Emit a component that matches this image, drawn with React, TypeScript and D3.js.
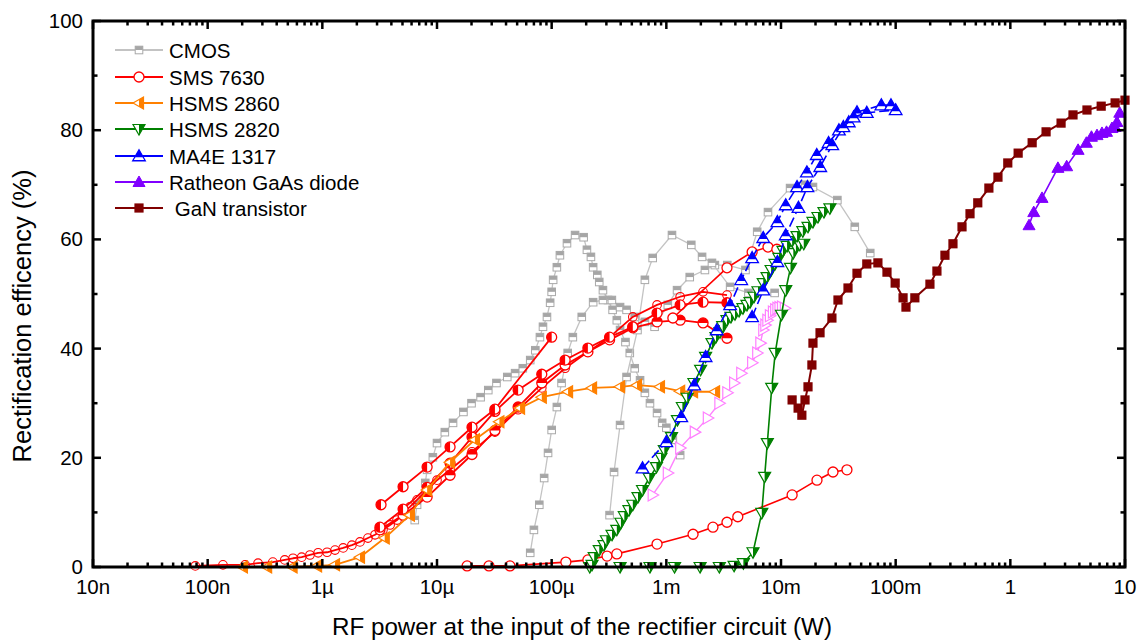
import React from 'react';
import * as d3 from 'd3';

type Pt = [number, number];

// ---- data: [RF power (W), rectification efficiency (%)] ----
const cmosA: Pt[] = [[6.4e-6,8.6],[6.7e-6,11.4],[7.9e-6,15.4],[8.2e-6,17.8],[9.2e-6,20.1],[1.0e-5,22.7],[1.17e-5,24.7],[1.38e-5,26.4],[1.7e-5,28.4],[2.0e-5,30.0],[2.4e-5,31.1],[2.8e-5,32.4],[3.3e-5,33.7],[4.1e-5,34.8],[4.8e-5,35.5],[5.6e-5,36.4],[6.5e-5,37.9],[7.2e-5,39.7],[7.9e-5,42.1],[8.4e-5,44.0],[9.1e-5,45.8],[9.7e-5,48.4],[1.0e-4,50.4],[1.03e-4,52.6],[1.11e-4,54.9],[1.18e-4,57.1],[1.36e-4,59.3],[1.6e-4,60.8],[1.9e-4,60.4],[2.03e-4,58.1],[2.2e-4,56.8],[2.3e-4,54.9],[2.5e-4,53.5],[2.6e-4,52.2],[2.8e-4,50.7],[3.1e-4,48.9],[3.4e-4,47.1],[3.7e-4,45.2],[3.95e-4,43.4],[4.4e-4,41.2],[4.8e-4,39.2],[5.3e-4,36.4],[5.9e-4,34.2],[6.5e-4,31.9],[7.2e-4,30.0],[8.3e-4,28.2],[9.2e-4,26.4],[1.0e-3,25.5],[1.14e-3,23.3],[1.32e-3,20.5]];
const cmosB: Pt[] = [[6.5e-5,2.6],[7.0e-5,6.8],[7.8e-5,11.4],[8.6e-5,16.3],[9.3e-5,20.9],[1.0e-4,25.1],[1.11e-4,29.3],[1.22e-4,33.7],[1.38e-4,39.2],[1.53e-4,42.1],[1.83e-4,45.8],[2.3e-4,48.5],[2.8e-4,48.9],[3.35e-4,48.9],[3.95e-4,47.6],[4.5e-4,47.1],[5.3e-4,45.8],[6.5e-4,44.9],[7.9e-4,44.0],[1.03e-3,48.0],[1.24e-3,50.7],[1.6e-3,53.1],[2.17e-3,54.4],[2.65e-3,55.3],[3.4e-3,55.3],[4.9e-3,54.4],[6.2e-3,61.4],[7.7e-3,65.0],[1.2e-2,69.4],[1.62e-2,70.0],[1.9e-2,69.6],[3.1e-2,67.2],[4.4e-2,62.3],[6.0e-2,57.5]];
const cmosC: Pt[] = [[3.2e-4,9.5],[3.5e-4,17.4],[3.95e-4,26.0],[4.5e-4,34.8],[5.6e-4,43.4],[6.5e-4,52.6],[7.6e-4,56.6],[1.12e-3,60.8],[1.65e-3,59.0],[2.05e-3,56.8],[2.5e-3,55.7],[3.6e-3,51.3],[5.2e-3,50.2],[8.8e-3,50.2]];

const smsDense: Pt[] = [[7.8e-8,0.2],[1.36e-7,0.4],[2.12e-7,0.4],[2.75e-7,0.7],[3.7e-7,0.9],[4.7e-7,1.3],[5.55e-7,1.6],[6.6e-7,1.8],[7.8e-7,2.2],[9.2e-7,2.6],[1.1e-6,2.7],[1.29e-6,3.1],[1.52e-6,3.5],[1.81e-6,4.0],[2.13e-6,4.6],[2.5e-6,5.3],[2.88e-6,5.9],[3.38e-6,6.8],[3.9e-6,7.7],[4.48e-6,8.6],[5.06e-6,9.9],[5.8e-6,11.0],[6.7e-6,12.3],[8.2e-6,14.1],[1.0e-5,15.9],[1.3e-5,17.8],[2.02e-5,21.1],[3.2e-5,24.7],[5.1e-5,28.8],[8.2e-5,32.8],[1.31e-4,36.4],[2.07e-4,39.4],[3.2e-4,42.1],[5.1e-4,45.8],[8.3e-4,48.0],[1.32e-3,49.5],[2.09e-3,50.4],[3.38e-3,49.8]];
const smsShort: Pt[] = [[3.25e-6,11.4],[5.06e-6,14.7],[8.2e-6,18.3],[1.3e-5,22.0],[2.02e-5,25.6],[3.2e-5,28.9],[1.0e-4,42.1]];
const smsMid: Pt[] = [[3.18e-6,7.3],[5.06e-6,10.6],[8.2e-6,14.6],[1.3e-5,19.0],[2.02e-5,23.8],[3.2e-5,28.5],[5.1e-5,32.4],[8.2e-5,35.3],[1.31e-4,37.9],[2.07e-4,40.1],[3.2e-4,42.1],[5.1e-4,44.0],[8.3e-4,46.5],[1.32e-3,48.0],[2.09e-3,48.5],[3.38e-3,48.4]];
const smsLow: Pt[] = [[3.18e-6,6.8],[5.06e-6,9.5],[8.2e-6,12.8],[1.3e-5,16.8],[2.02e-5,20.6],[3.2e-5,25.0],[5.1e-5,29.3],[8.2e-5,33.7],[1.31e-4,37.0],[2.07e-4,39.4],[3.2e-4,41.6],[5.1e-4,43.8],[8.3e-4,44.9],[1.32e-3,45.2],[2.09e-3,44.7],[3.38e-3,41.9]];
const smsSteep: Pt[] = [[1.14e-3,45.6],[3.38e-3,54.8],[5.6e-3,57.7],[7.7e-3,58.6],[9.2e-3,58.2]];
const smsFlat: Pt[] = [[1.83e-5,0.2],[2.84e-5,0.2],[4.33e-5,0.2],[1.33e-4,0.9],[2.07e-4,1.3],[3.04e-4,2.0],[3.7e-4,2.4],[8.3e-4,4.2],[1.71e-3,6.0],[2.55e-3,7.3],[3.38e-3,8.2],[4.2e-3,9.2],[1.25e-2,13.2],[2.06e-2,15.9],[2.84e-2,17.4],[3.76e-2,17.8]];

const hsms2860: Pt[] = [[2.03e-7,0],[3.3e-7,0],[5.5e-7,0],[9.0e-7,0.2],[1.29e-6,0.4],[2.13e-6,1.8],[3.5e-6,5.3],[5.8e-6,9.5],[8.2e-6,14.1],[1.3e-5,19.2],[2.14e-5,23.3],[3.5e-5,26.6],[5.3e-5,29.1],[8.2e-5,31.1],[1.39e-4,32.1],[2.25e-4,32.8],[3.95e-4,33.0],[5.55e-4,33.3],[8.8e-4,33.0],[1.32e-3,32.2],[1.71e-3,32.1],[2.66e-3,32.1]];

const hsms2820A: Pt[] = [[2.25e-4,0.4],[2.35e-4,1.8],[2.6e-4,3.1],[2.86e-4,4.0],[3.0e-4,4.9],[3.36e-4,5.9],[3.7e-4,6.8],[4.02e-4,8.1],[4.3e-4,9.3],[4.72e-4,10.4],[5.1e-4,11.4],[5.66e-4,12.8],[6.2e-4,14.1],[7.1e-4,16.3],[8.2e-4,18.3],[8.98e-4,20.0],[9.6e-4,21.4],[1.11e-3,23.8],[1.25e-3,26.9],[1.38e-3,29.3],[1.52e-3,31.0],[1.74e-3,33.7],[1.99e-3,36.1],[2.2e-3,38.5],[2.5e-3,41.0],[2.71e-3,42.1],[2.94e-3,43.0],[3.1e-3,44.1],[3.38e-3,45.2],[3.66e-3,45.8],[3.97e-3,46.3],[4.31e-3,46.9],[4.66e-3,47.4],[5.05e-3,48.0],[5.37e-3,48.5],[5.82e-3,49.5],[6.3e-3,50.5],[7.0e-3,52.0],[7.56e-3,53.1],[8.2e-3,54.4],[8.87e-3,55.5],[9.6e-3,56.6],[1.04e-2,57.9],[1.13e-2,58.8],[1.25e-2,59.7],[1.38e-2,60.6],[1.55e-2,61.5],[1.72e-2,62.3],[1.9e-2,63.2],[2.1e-2,64.1],[2.37e-2,65.0],[2.67e-2,65.7]];
const hsms2820B: Pt[] = [[2.15e-4,0],[3.95e-4,0],[7.2e-4,0],[1.18e-3,0],[1.97e-3,0],[2.9e-3,0],[3.9e-3,0.2],[4.7e-3,0.7],[5.7e-3,2.7],[6.8e-3,9.9],[7.2e-3,16.5],[7.6e-3,22.7],[8.3e-3,32.8],[8.9e-3,39.2],[1.01e-2,46.2],[1.1e-2,50.7],[1.21e-2,54.8],[1.28e-2,57.5],[1.35e-2,58.6],[1.46e-2,59.0],[1.58e-2,59.2]];
const hsms2820C: Pt[] = [[7.6e-4,13.2],[1.03e-3,17.2],[1.32e-3,21.8],[1.77e-3,24.7],[2.3e-3,27.3],[2.9e-3,30.0],[3.4e-3,31.9],[3.9e-3,33.7],[4.5e-3,35.5],[5.6e-3,37.4],[6.2e-3,39.2],[6.6e-3,41.0],[7.0e-3,43.4],[7.3e-3,44.3],[7.6e-3,45.2],[8.0e-3,46.0],[8.5e-3,46.7],[8.9e-3,47.1],[9.3e-3,47.4],[9.7e-3,47.5],[1.02e-2,47.6],[1.08e-2,47.4]];

const ma4eA: Pt[] = [[6.2e-4,18.1],[1.0e-3,22.9],[1.35e-3,27.5],[1.75e-3,33.3],[2.2e-3,38.5],[2.75e-3,43.4],[3.6e-3,48.0],[4.5e-3,52.6],[5.6e-3,56.6],[7.0e-3,60.3],[9.3e-3,63.2],[1.1e-2,66.3],[1.38e-2,69.6],[1.68e-2,72.3],[2.05e-2,75.5],[2.6e-2,77.7],[3.2e-2,80.0],[3.9e-2,81.5],[4.6e-2,83.3],[7.5e-2,84.6],[9.1e-2,84.6]];
const ma4eB: Pt[] = [[5.6e-3,45.8],[7.0e-3,50.7],[9.3e-3,55.9],[1.1e-2,60.8],[1.42e-2,65.8],[1.7e-2,69.6],[2.2e-2,73.3],[2.8e-2,77.3],[3.5e-2,80.6],[4.3e-2,82.4],[5.6e-2,83.2],[1.0e-1,83.7]];

const ratheon: Pt[] = [[1.456,62.6],[1.6,65.0],[1.89,67.6],[2.6,73.1],[3.1,73.4],[3.9,76.4],[4.6,77.7],[5.1,78.8],[5.7,79.1],[6.3,79.5],[6.9,79.7],[7.7,80.4],[8.2,80.6],[8.5,81.5],[9.0,83.2]];

const gan: Pt[] = [[1.25e-2,30.6],[1.41e-2,29.1],[1.52e-2,27.8],[1.62e-2,30.6],[1.72e-2,33.0],[1.86e-2,37.0],[1.9e-2,41.0],[2.19e-2,42.9],[2.78e-2,45.6],[3.14e-2,48.9],[3.84e-2,51.1],[4.6e-2,53.8],[5.6e-2,55.5],[7.0e-2,55.7],[8.4e-2,54.0],[9.9e-2,52.0],[0.116,49.3],[0.123,47.6],[0.147,49.3],[0.199,51.8],[0.229,54.2],[0.269,57.1],[0.316,59.2],[0.379,62.3],[0.445,64.7],[0.52,66.7],[0.65,69.4],[0.78,71.4],[0.95,74.0],[1.17,75.8],[1.55,77.7],[2.05,79.7],[2.77,81.3],[3.52,82.8],[4.66,83.7],[6.2,84.4],[8.2,85.0],[10,85.5]];

const legendNames = ['CMOS', 'SMS 7630', 'HSMS 2860', 'HSMS 2820', 'MA4E 1317', 'Ratheon GaAs diode', ' GaN transistor'];
const xTickValues = [1e-8, 1e-7, 1e-6, 1e-5, 1e-4, 1e-3, 1e-2, 1e-1, 1, 10];
const xTickLabels = ['10n', '100n', '1\u00b5', '10\u00b5', '100\u00b5', '1m', '10m', '100m', '1', '10'];
const yTickValues = [0, 20, 40, 60, 80, 100];
const yMinorValues = [10, 30, 50, 70, 90];

const C = {
  cmos: '#c3c3c3', sms: '#ff0000', h2860: '#ff8000', h2820: '#008000',
  pink: '#ff80ff', ma4e: '#0000ff', rat: '#8000ff', gan: '#800000',
};

type Kind = 'sqHalf' | 'circOpen' | 'circThin' | 'circHalfL' | 'circHalfT' | 'triLHalf' | 'triDHalf' | 'triUHalf' | 'triROpen' | 'triUFill' | 'sqFill';

interface Series { data: Pt[]; color: string; width: number; kind: Kind; dash?: string; }

const series: Series[] = [
  { data: cmosA, color: C.cmos, width: 1.3, kind: 'sqHalf' },
  { data: cmosB, color: C.cmos, width: 1.3, kind: 'sqHalf' },
  { data: cmosC, color: C.cmos, width: 1.3, kind: 'sqHalf' },
  { data: smsFlat, color: C.sms, width: 1.6, kind: 'circOpen' },
  { data: smsDense, color: C.sms, width: 1.8, kind: 'circThin' },
  { data: smsLow, color: C.sms, width: 1.8, kind: 'circHalfT' },
  { data: smsMid, color: C.sms, width: 1.8, kind: 'circHalfL' },
  { data: smsShort, color: C.sms, width: 1.8, kind: 'circHalfL' },
  { data: smsSteep, color: C.sms, width: 1.6, kind: 'circOpen' },
  { data: hsms2860, color: C.h2860, width: 1.8, kind: 'triLHalf' },
  { data: hsms2820C, color: C.pink, width: 1.4, kind: 'triROpen' },
  { data: hsms2820B, color: C.h2820, width: 1.6, kind: 'triDHalf' },
  { data: hsms2820A, color: C.h2820, width: 1.6, kind: 'triDHalf' },
  { data: ma4eA, color: C.ma4e, width: 1.6, kind: 'triUHalf', dash: '10 4' },
  { data: ma4eB, color: C.ma4e, width: 1.6, kind: 'triUHalf', dash: '10 4' },
  { data: ratheon, color: C.rat, width: 1.6, kind: 'triUFill' },
  { data: gan, color: C.gan, width: 2, kind: 'sqFill' },
];

const legendKinds: Kind[] = ['sqHalf', 'circOpen', 'triLHalf', 'triDHalf', 'triUHalf', 'triUFill', 'sqFill'];
const legendColors = [C.cmos, C.sms, C.h2860, C.h2820, C.ma4e, C.rat, C.gan];

const FONT = "'Liberation Sans', Arial, Helvetica, sans-serif";

function Marker({ kind, cx, cy, c }: { kind: Kind; cx: number; cy: number; c: string }) {
  switch (kind) {
    case 'sqHalf': {
      const s = 3.8;
      return (
        <g>
          <rect x={cx - s} y={cy - s} width={2 * s} height={2 * s} fill="#ffffff" stroke="#a9a9a9" strokeWidth={1} />
          <rect x={cx - s} y={cy - s} width={2 * s} height={s} fill="#a6a6a6" />
        </g>
      );
    }
    case 'circOpen':
      return <circle cx={cx} cy={cy} r={5} fill="#ffffff" stroke={c} strokeWidth={1.3} />;
    case 'circThin':
      return <circle cx={cx} cy={cy} r={4.3} fill="none" stroke={c} strokeWidth={1.1} />;
    case 'circHalfL': {
      const r = 5;
      return (
        <g>
          <circle cx={cx} cy={cy} r={r} fill="#ffffff" stroke={c} strokeWidth={1.3} />
          <path d={`M${cx},${cy - r} A${r},${r} 0 0 0 ${cx},${cy + r} Z`} fill={c} />
        </g>
      );
    }
    case 'circHalfT': {
      const r = 5;
      return (
        <g>
          <circle cx={cx} cy={cy} r={r} fill="#ffffff" stroke={c} strokeWidth={1.3} />
          <path d={`M${cx - r},${cy} A${r},${r} 0 0 1 ${cx + r},${cy} Z`} fill={c} />
        </g>
      );
    }
    case 'triLHalf': {
      const s = 6;
      return (
        <g>
          <polygon points={`${cx - s},${cy} ${cx + 0.75 * s},${cy - s} ${cx + 0.75 * s},${cy + s}`} fill="#ffffff" stroke={c} strokeWidth={1.2} />
          <polygon points={`${cx},${cy - 0.571 * s} ${cx + 0.75 * s},${cy - s} ${cx + 0.75 * s},${cy + s} ${cx},${cy + 0.571 * s}`} fill={c} />
        </g>
      );
    }
    case 'triDHalf': {
      const s = 6;
      return (
        <g>
          <polygon points={`${cx - s},${cy - 0.75 * s} ${cx + s},${cy - 0.75 * s} ${cx},${cy + s}`} fill="#ffffff" stroke={c} strokeWidth={1.2} />
          <polygon points={`${cx},${cy - 0.75 * s} ${cx + s},${cy - 0.75 * s} ${cx},${cy + s}`} fill={c} />
        </g>
      );
    }
    case 'triUHalf': {
      const s = 6.3;
      return (
        <g>
          <polygon points={`${cx},${cy - s} ${cx + s},${cy + 0.75 * s} ${cx - s},${cy + 0.75 * s}`} fill="#ffffff" stroke={c} strokeWidth={1.3} />
          <polygon points={`${cx},${cy - s} ${cx + 0.7 * s},${cy + 0.2 * s} ${cx - 0.7 * s},${cy + 0.2 * s}`} fill={c} />
        </g>
      );
    }
    case 'triROpen': {
      const s = 6;
      return <polygon points={`${cx + s},${cy} ${cx - 0.75 * s},${cy - s} ${cx - 0.75 * s},${cy + s}`} fill="#ffffff" stroke={c} strokeWidth={1.2} />;
    }
    case 'triUFill': {
      const s = 6;
      return <polygon points={`${cx},${cy - s} ${cx + s},${cy + 0.75 * s} ${cx - s},${cy + 0.75 * s}`} fill={c} stroke={c} strokeWidth={1} />;
    }
    case 'sqFill': {
      const s = 4.6;
      return <rect x={cx - s} y={cy - s} width={2 * s} height={2 * s} fill={c} />;
    }
  }
  return null;
}

export default function App() {
  const left = 93, right = 1125, top = 21, bottom = 567;
  const x = d3.scaleLog().domain([1e-8, 10]).range([left, right]);
  const y = d3.scaleLinear().domain([0, 100]).range([bottom, top]);
  const line = d3.line<Pt>().x(d => x(d[0])).y(d => y(d[1]));

  const xMinor: number[] = [];
  for (let i = 0; i < xTickValues.length - 1; i++) {
    for (let k = 2; k <= 9; k++) xMinor.push(xTickValues[i] * k);
  }

  const legendY = [50, 77, 103, 129, 156, 182, 208];

  return (
    <div style={{ position: 'absolute', left: 0, top: 0 }}>
      <svg width={1146} height={642} style={{ display: 'block', background: '#ffffff' }} fontFamily={FONT}>
        <rect x={0} y={0} width={1146} height={642} fill="#ffffff" />
        {/* series */}
        {series.map((s, i) => (
          <g key={i}>
            <path d={line(s.data) || ''} fill="none" stroke={s.color} strokeWidth={s.width} strokeDasharray={s.dash} strokeLinejoin="round" />
            {s.data.map((d, j) => (
              <Marker key={j} kind={s.kind} cx={x(d[0])} cy={y(d[1])} c={s.color} />
            ))}
          </g>
        ))}

        {/* frame */}
        <rect x={left} y={top} width={right - left} height={bottom - top} fill="none" stroke="#000" strokeWidth={3} />

        {/* x ticks */}
        {xTickValues.map((v, i) => (
          <g key={'xt' + i}>
            <line x1={x(v)} x2={x(v)} y1={bottom} y2={bottom - 8} stroke="#000" strokeWidth={2.5} />
            <line x1={x(v)} x2={x(v)} y1={top} y2={top + 8} stroke="#000" strokeWidth={2.5} />
            <text x={x(v)} y={594} textAnchor="middle" fontSize={20.5} fill="#000">{xTickLabels[i]}</text>
          </g>
        ))}
        {xMinor.map((v, i) => (
          <g key={'xm' + i}>
            <line x1={x(v)} x2={x(v)} y1={bottom} y2={bottom - 4.5} stroke="#000" strokeWidth={2.5} />
            <line x1={x(v)} x2={x(v)} y1={top} y2={top + 4.5} stroke="#000" strokeWidth={2.5} />
          </g>
        ))}

        {/* y ticks */}
        {yTickValues.map((v, i) => (
          <g key={'yt' + i}>
            <line x1={left} x2={left + 8} y1={y(v)} y2={y(v)} stroke="#000" strokeWidth={2.5} />
            <line x1={right} x2={right - 8} y1={y(v)} y2={y(v)} stroke="#000" strokeWidth={2.5} />
            <text x={83} y={y(v) + 7} textAnchor="end" fontSize={20.5} fill="#000">{v}</text>
          </g>
        ))}
        {yMinorValues.map((v, i) => (
          <g key={'ym' + i}>
            <line x1={left} x2={left + 4.5} y1={y(v)} y2={y(v)} stroke="#000" strokeWidth={2.5} />
            <line x1={right} x2={right - 4.5} y1={y(v)} y2={y(v)} stroke="#000" strokeWidth={2.5} />
          </g>
        ))}

        {/* axis titles */}
        <text x={582} y={635} textAnchor="middle" fontSize={24.2} fill="#000">RF power at the input of the rectifier circuit (W)</text>
        <text transform="translate(31,316) rotate(-90)" textAnchor="middle" fontSize={25.5} fill="#000">Rectification efficency (%)</text>

        {/* legend */}
        {legendNames.map((n, i) => (
          <g key={'lg' + i}>
            <line x1={115} x2={163} y1={legendY[i]} y2={legendY[i]} stroke={legendColors[i]} strokeWidth={1.8} />
            <Marker kind={legendKinds[i]} cx={139} cy={legendY[i]} c={legendColors[i]} />
            <text x={169} y={legendY[i] + 7.5} fontSize={20.5} fill="#000" style={{ whiteSpace: 'pre' }}>{n}</text>
          </g>
        ))}
      </svg>
    </div>
  );
}
